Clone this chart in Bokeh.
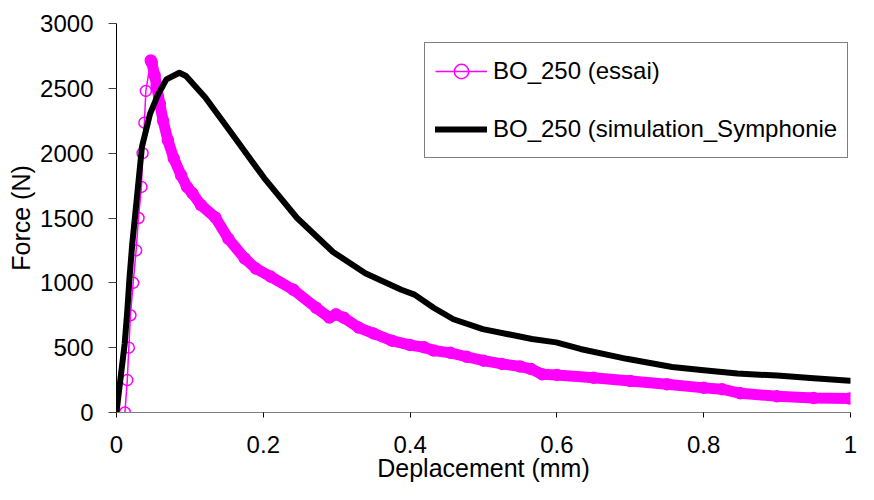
from bokeh.plotting import figure
from bokeh.models import Range1d, FixedTicker, Legend, LegendItem
from bokeh.embed import file_html
from bokeh.resources import INLINE

# ---- data ----
essai_x = [0.0115, 0.0147, 0.0168, 0.019, 0.0227, 0.0267, 0.030, 0.034, 0.0355, 0.038, 0.040, 0.0467,
           0.048, 0.052, 0.0547, 0.059, 0.0635, 0.070, 0.078, 0.088, 0.096, 0.1035, 0.115, 0.1347,
           0.1524, 0.1747, 0.19, 0.210, 0.241, 0.272, 0.290, 0.299, 0.31, 0.330, 0.35, 0.375, 0.40,
           0.419, 0.432, 0.455, 0.477, 0.50, 0.525, 0.55, 0.565, 0.58, 0.60, 0.65, 0.70, 0.75, 0.80,
           0.825, 0.85, 0.90, 0.95, 0.999]
essai_y = [0, 250, 500, 750, 1000, 1250, 1500, 1740, 2000, 2235, 2480, 2715,
           2700, 2600, 2520, 2380, 2250, 2100, 1960, 1830, 1740, 1690, 1600, 1504,
           1340, 1188, 1110, 1048, 947, 808, 732, 757, 730, 655, 610, 554, 520,
           503, 478, 460, 430, 400, 375, 355, 335, 295, 290, 268, 243, 218, 190,
           180, 148, 125, 112, 108]
essai_peak = 11  # index of the maximum: dense measurements after it

sim_x = [0, 0.0057, 0.0111, 0.0147, 0.0177, 0.0213, 0.028, 0.0347, 0.0457, 0.0568, 0.068, 0.0857,
         0.0947, 0.121, 0.157, 0.201, 0.246, 0.295, 0.339, 0.388, 0.406, 0.432, 0.459, 0.499,
         0.566, 0.599, 0.632, 0.695, 0.757, 0.8, 0.846, 0.9, 0.95, 0.999]
sim_y = [0, 275, 528, 782, 1036, 1289, 1669, 2049, 2303, 2455, 2569, 2620,
         2595, 2430, 2151, 1810, 1500, 1238, 1074, 947, 909, 808, 719, 643,
         567, 541, 490, 414, 351, 326, 300, 285, 265, 245]

x_ticks = [0, 0.2, 0.4, 0.6, 0.8, 1.0]
x_tick_labels = ["0", "0.2", "0.4", "0.6", "0.8", "1"]
y_ticks = [0, 500, 1000, 1500, 2000, 2500, 3000]
y_tick_labels = ["0", "500", "1000", "1500", "2000", "2500", "3000"]

label_essai = "BO_250 (essai)"
label_sim = "BO_250 (simulation_Symphonie"

MAG = "#FF00FF"
FONT = "Liberation Sans"

p = figure(width=858, height=484, output_backend="svg", toolbar_location=None,
           x_range=Range1d(0, 1), y_range=Range1d(0, 3000))
p.min_border_left = 116
p.min_border_right = 8
p.min_border_top = 23
p.min_border_bottom = 67
p.outline_line_color = None
p.background_fill_color = "white"
p.border_fill_color = "white"
p.xgrid.visible = False
p.ygrid.visible = False

# axes
p.xaxis.ticker = FixedTicker(ticks=x_ticks)
p.xaxis.major_label_overrides = {t: l for t, l in zip(x_ticks, x_tick_labels)}
p.yaxis.ticker = FixedTicker(ticks=y_ticks)
p.yaxis.major_label_overrides = {t: l for t, l in zip(y_ticks, y_tick_labels)}
for ax in (p.xaxis, p.yaxis):
    ax.minor_tick_line_color = None
    ax.major_tick_in = 0
    ax.major_label_text_font = FONT
    ax.major_label_text_font_size = "24px"
    ax.major_label_text_color = "black"
    ax.axis_label_text_font = FONT
    ax.axis_label_text_font_size = "25px"
    ax.axis_label_text_font_style = "normal"
    ax.axis_label_text_color = "black"
p.xaxis.axis_line_color = "#808080"
p.xaxis.major_tick_line_color = "black"
p.xaxis.major_tick_out = 5
p.xaxis.major_label_standoff = 18
p.xaxis.axis_label = "Deplacement (mm)"
p.xaxis.axis_label_standoff = -2
p.yaxis.axis_line_color = "black"
p.yaxis.major_tick_line_color = "#404040"
p.yaxis.major_tick_out = 8
p.yaxis.major_label_standoff = 15
p.yaxis.axis_label = "Force (N)"
p.yaxis.axis_label_standoff = 2

# essai: thin line with hollow circles, dense part as a solid band
band = p.line(essai_x[essai_peak:], essai_y[essai_peak:], line_color=MAG, line_width=11,
              line_join="round", line_cap="round")
r_line = p.line(essai_x, essai_y, line_color=MAG, line_width=1.5)
r_pts = p.scatter(essai_x, essai_y, marker="circle", size=11, line_color=MAG, line_width=1.5,
                  fill_color="white", fill_alpha=0.0)

# simulation
r_sim = p.line(sim_x, sim_y, line_color="black", line_width=6, line_join="round", line_cap="round")

legend = Legend(items=[LegendItem(label=label_essai, renderers=[r_line, r_pts]),
                       LegendItem(label=label_sim, renderers=[r_sim])],
                location=(308, 254))
legend.label_text_font = FONT
legend.label_text_font_size = "24px"
legend.label_text_color = "black"
legend.glyph_width = 52
legend.glyph_height = 36
legend.label_height = 36
legend.label_standoff = 6
legend.padding = 10
legend.spacing = 22
legend.margin = 0
legend.border_line_color = "black"
legend.border_line_width = 1
legend.background_fill_color = "white"
legend.background_fill_alpha = 1.0
p.add_layout(legend, "center")

open("out.html", "w").write(file_html(p, INLINE))
